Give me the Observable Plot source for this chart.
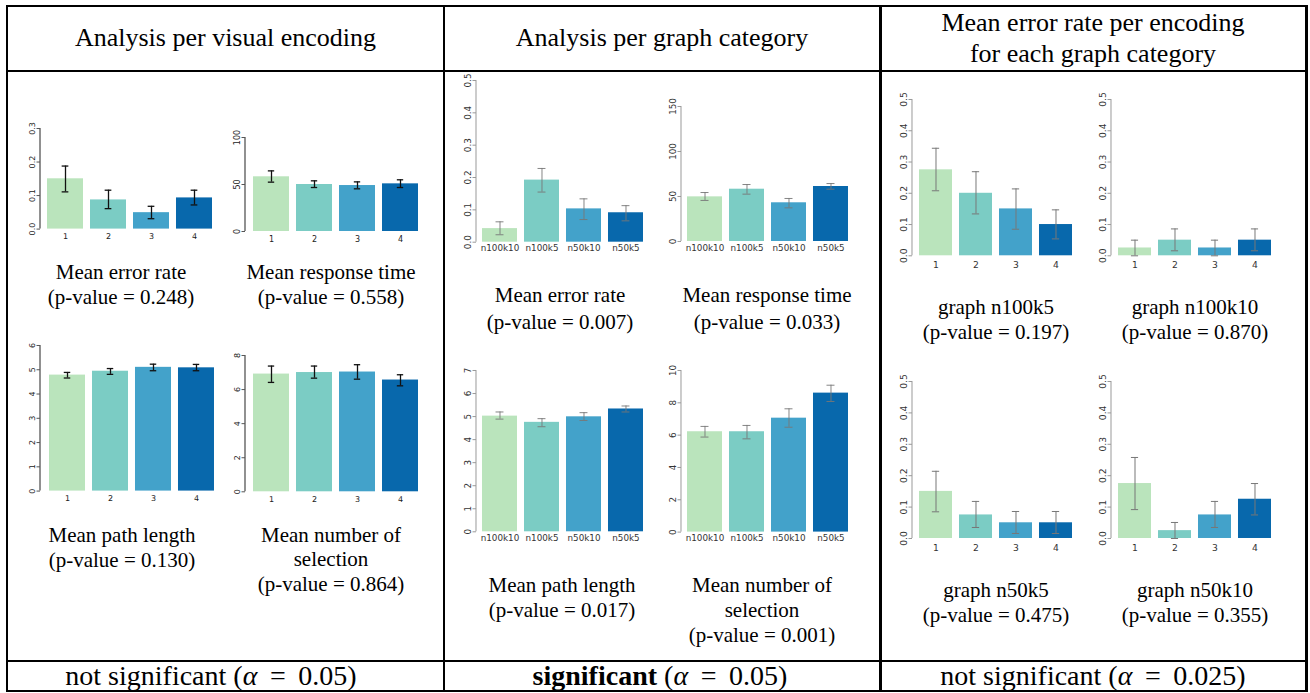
<!DOCTYPE html>
<html>
<head>
<meta charset="utf-8">
<script src="https://cdn.jsdelivr.net/npm/d3@7"></script>
<script src="https://cdn.jsdelivr.net/npm/@observablehq/plot@0.6"></script>
<style>
  html, body { margin: 0; padding: 0; background: #fff; }
  #page { position: relative; width: 1310px; height: 693px; overflow: hidden; background: #fff; }
  .ln { position: absolute; background: #000; }
  .txt { position: absolute; font-family: "Liberation Serif", "Times New Roman", serif; color: #000; text-align: center; white-space: nowrap; }
  .chart { position: absolute; }
</style>
</head>
<body>
<div id="page"></div>
<script>
// ---------------- data ----------------
const encodings = ["1", "2", "3", "4"];
const graphCats = ["n100k10", "n100k5", "n50k10", "n50k5"];
const palette = ["#BAE4BC", "#7BCCC4", "#43A2CA", "#0868AC"];

// Analysis per visual encoding
const encErrMean = [0.150, 0.087, 0.049, 0.093];
const encErrLo   = [0.111, 0.061, 0.031, 0.072];
const encErrHi   = [0.188, 0.116, 0.068, 0.116];
const encTimeMean = [58.2, 50.0, 48.9, 50.7];
const encTimeLo   = [52.5, 46.8, 45.4, 46.8];
const encTimeHi   = [64.5, 53.9, 52.8, 55.0];
const encPathMean = [4.78, 4.94, 5.10, 5.08];
const encPathLo   = [4.66, 4.81, 4.96, 4.96];
const encPathHi   = [4.89, 5.05, 5.23, 5.22];
const encSelMean = [6.91, 7.00, 7.03, 6.56];
const encSelLo   = [6.42, 6.67, 6.61, 6.22];
const encSelHi   = [7.38, 7.38, 7.46, 6.87];

// Analysis per graph category
const catErrMean = [0.042, 0.192, 0.103, 0.091];
const catErrLo   = [0.023, 0.155, 0.070, 0.066];
const catErrHi   = [0.063, 0.228, 0.134, 0.113];
const catTimeMean = [49.6, 58.1, 43.0, 61.1];
const catTimeLo   = [45.6, 52.6, 37.4, 58.1];
const catTimeHi   = [54.4, 63.3, 47.8, 64.4];
const catPathMean = [5.02, 4.75, 4.99, 5.33];
const catPathLo   = [4.89, 4.56, 4.83, 5.20];
const catPathHi   = [5.20, 4.91, 5.17, 5.46];
const catSelMean = [6.21, 6.21, 7.05, 8.60];
const catSelLo   = [5.88, 5.77, 6.49, 8.08];
const catSelHi   = [6.54, 6.60, 7.63, 9.09];

// Mean error rate per encoding for each graph category
const n100k5Mean = [0.275, 0.200, 0.150, 0.100];
const n100k5Lo   = [0.208, 0.134, 0.085, 0.054];
const n100k5Hi   = [0.344, 0.269, 0.214, 0.147];
const n100k10Mean = [0.025, 0.050, 0.025, 0.050];
const n100k10Lo   = [0.000, 0.016, 0.000, 0.016];
const n100k10Hi   = [0.050, 0.086, 0.050, 0.086];
const n50k5Mean = [0.150, 0.075, 0.050, 0.050];
const n50k5Lo   = [0.085, 0.035, 0.016, 0.016];
const n50k5Hi   = [0.214, 0.118, 0.086, 0.086];
const n50k10Mean = [0.175, 0.025, 0.075, 0.125];
const n50k10Lo   = [0.092, 0.000, 0.035, 0.075];
const n50k10Hi   = [0.258, 0.051, 0.118, 0.175];

// tick values
const ticksErr03 = [0, 0.1, 0.2, 0.3];
const ticksErr05 = [0, 0.1, 0.2, 0.3, 0.4, 0.5];
const ticksTime100 = [0, 50, 100];
const ticksTime150 = [0, 50, 100, 150];
const ticksPath6 = [0, 1, 2, 3, 4, 5, 6];
const ticksPath7 = [0, 1, 2, 3, 4, 5, 6, 7];
const ticksSel8 = [0, 2, 4, 6, 8];
const ticksSel10 = [0, 2, 4, 6, 8, 10];

// texts
const headers = ["Analysis per visual encoding", "Analysis per graph category", "Mean error rate per encoding<br>for each graph category"];
const footers = ["not significant (<i>α</i>&thinsp; = &thinsp;0.05)", "<b>significant</b> (<i>α</i>&thinsp; = &thinsp;0.05)", "not significant (<i>α</i>&thinsp; = &thinsp;0.025)"];

// ---------------- layout helpers ----------------
const page = document.getElementById("page");
function line(x, y, w, h) {
  const d = document.createElement("div");
  d.className = "ln";
  Object.assign(d.style, {left: x + "px", top: y + "px", width: w + "px", height: h + "px"});
  page.appendChild(d);
}
function text(html, cx, cy, size, lh, w = 420) {
  const d = document.createElement("div");
  d.className = "txt";
  d.innerHTML = html;
  Object.assign(d.style, {left: (cx - w / 2) + "px", top: (cy - lh / 2) + "px", width: w + "px",
    fontSize: size + "px", lineHeight: lh + "px"});
  page.appendChild(d);
}

const styles = {
  left:  {err: "#111", errW: 1.3, cap: 7, axis: "#555", axisW: 1.3, label: "#222", fs: 8,   xpad: 4.5, ypad: 2},
  mid:   {err: "#777", errW: 0.9, cap: 8, axis: "#999", axisW: 1,   label: "#333", fs: 8.8, xpad: 3,   ypad: 2},
  right: {err: "#777", errW: 1,   cap: 8, axis: "#999", axisW: 1,   label: "#333", fs: 9.2, xpad: 5.5, ypad: 2}
};

function panel(cfg) {
  const st = styles[cfg.style];
  const cats = cfg.cats;
  const data = cats.map((c, i) => ({cat: c, v: cfg.mean[i], lo: cfg.lo[i], hi: cfg.hi[i]}));
  const padL = 30, marginRight = 4, marginTop = 8, marginBottom = 22;
  const off = cfg.barL - cfg.x0;
  const frameW = (cfg.barR + off) - cfg.x0;
  const n = cats.length, pi = 1 / 6;
  const po = off * (n - pi) / (frameW - 2 * off);
  const step = frameW / (n - pi + 2 * po);
  const bw = step * (1 - pi);
  const inset = (bw - st.cap) / 2;
  const left = cfg.x0 - padL;
  const top = cfg.yTop - marginTop;
  const width = padL + frameW + marginRight;
  const height = (cfg.yBot - top) + marginBottom;
  const ymax = cfg.ticks[cfg.ticks.length - 1];

  const axisLine = (index, scales, values, dims) => {
    const l = document.createElementNS("http://www.w3.org/2000/svg", "line");
    const x = dims.marginLeft;
    l.setAttribute("x1", x); l.setAttribute("x2", x);
    l.setAttribute("y1", scales.y(0)); l.setAttribute("y2", scales.y(ymax));
    l.setAttribute("stroke", st.axis); l.setAttribute("stroke-width", st.axisW);
    return l;
  };

  const chart = Plot.plot({
    width, height, marginLeft: padL, marginRight, marginTop, marginBottom,
    x: {domain: cats, paddingInner: pi, paddingOuter: po, align: 0.5},
    y: {domain: [0, ymax]},
    color: {domain: cats, range: palette},
    style: {fontFamily: "DejaVu Sans", fontSize: st.fs + "px", background: "transparent", overflow: "visible"},
    marks: [
      Plot.barY(data, {x: "cat", y: "v", fill: "cat"}),
      Plot.ruleX(data, {x: "cat", y1: "lo", y2: "hi", stroke: st.err, strokeWidth: st.errW}),
      Plot.tickY(data, {x: "cat", y: "lo", stroke: st.err, strokeWidth: st.errW, insetLeft: inset, insetRight: inset}),
      Plot.tickY(data, {x: "cat", y: "hi", stroke: st.err, strokeWidth: st.errW, insetLeft: inset, insetRight: inset}),
      axisLine,
      Plot.axisY({ticks: cfg.ticks, tickFormat: cfg.fmt, tickRotate: -90, tickSize: 3.5, tickPadding: st.ypad,
        stroke: st.axis, fill: st.label, label: null, fontSize: st.fs}),
      Plot.axisX({tickSize: 0, tickPadding: st.xpad, fill: st.label, label: null, fontSize: st.fs})
    ]
  });
  chart.classList.add("chart");
  chart.style.left = left + "px";
  chart.style.top = top + "px";
  page.appendChild(chart);
}

const f1 = d3.format(".1f"), f0 = d3.format("d");

// ---------------- panels ----------------
panel({style: "left", cats: encodings, mean: encErrMean, lo: encErrLo, hi: encErrHi, ticks: ticksErr03, fmt: f1,
  x0: 40, barL: 46, barR: 213, yTop: 127.7, yBot: 228.3});
panel({style: "left", cats: encodings, mean: encTimeMean, lo: encTimeLo, hi: encTimeHi, ticks: ticksTime100, fmt: f0,
  x0: 245, barL: 250.7, barR: 419.3, yTop: 137, yBot: 231});
panel({style: "left", cats: encodings, mean: encPathMean, lo: encPathLo, hi: encPathHi, ticks: ticksPath6, fmt: f0,
  x0: 40, barL: 47.7, barR: 215.7, yTop: 344.7, yBot: 490.3});
panel({style: "left", cats: encodings, mean: encSelMean, lo: encSelLo, hi: encSelHi, ticks: ticksSel8, fmt: f0,
  x0: 245, barL: 250.7, barR: 419.3, yTop: 354.7, yBot: 491});

panel({style: "mid", cats: graphCats, mean: catErrMean, lo: catErrLo, hi: catErrHi, ticks: ticksErr05, fmt: f1,
  x0: 476, barL: 482, barR: 643.3, yTop: 80, yBot: 241.7});
panel({style: "mid", cats: graphCats, mean: catTimeMean, lo: catTimeLo, hi: catTimeHi, ticks: ticksTime150, fmt: f0,
  x0: 681, barL: 687.3, barR: 848.3, yTop: 106.3, yBot: 241.3});
panel({style: "mid", cats: graphCats, mean: catPathMean, lo: catPathLo, hi: catPathHi, ticks: ticksPath7, fmt: f0,
  x0: 476, barL: 482, barR: 643.3, yTop: 370, yBot: 531.3});
panel({style: "mid", cats: graphCats, mean: catSelMean, lo: catSelLo, hi: catSelHi, ticks: ticksSel10, fmt: f0,
  x0: 681, barL: 687.3, barR: 848.3, yTop: 369.7, yBot: 531.3});

panel({style: "right", cats: encodings, mean: n100k5Mean, lo: n100k5Lo, hi: n100k5Hi, ticks: ticksErr05, fmt: f1,
  x0: 912.3, barL: 918.7, barR: 1073.7, yTop: 99, yBot: 255.3});
panel({style: "right", cats: encodings, mean: n100k10Mean, lo: n100k10Lo, hi: n100k10Hi, ticks: ticksErr05, fmt: f1,
  x0: 1111, barL: 1117.3, barR: 1273, yTop: 99, yBot: 255.3});
panel({style: "right", cats: encodings, mean: n50k5Mean, lo: n50k5Lo, hi: n50k5Hi, ticks: ticksErr05, fmt: f1,
  x0: 912.3, barL: 918.7, barR: 1073.7, yTop: 381.3, yBot: 538.3});
panel({style: "right", cats: encodings, mean: n50k10Mean, lo: n50k10Lo, hi: n50k10Hi, ticks: ticksErr05, fmt: f1,
  x0: 1111, barL: 1117.3, barR: 1273, yTop: 381.3, yBot: 538.3});

// ---------------- captions ----------------
const capFs = 21;
text("Mean error rate<br>(p-value = 0.248)", 121, 272.7, capFs, 25.3, 200);
text("Mean response time<br>(p-value = 0.558)", 331, 272.7, capFs, 25.3, 200);
text("Mean path length<br>(p-value = 0.130)", 122, 535, capFs, 25, 200);
text("Mean number of<br>selection<br>(p-value = 0.864)", 331, 535, capFs, 24.5, 200);

text("Mean error rate<br>(p-value = 0.007)", 560, 295.7, capFs, 26.5, 200);
text("Mean response time<br>(p-value = 0.033)", 767, 295.7, capFs, 26.5, 200);
text("Mean path length<br>(p-value = 0.017)", 562, 585.7, capFs, 24.5, 200);
text("Mean number of<br>selection<br>(p-value = 0.001)", 762, 585.7, capFs, 25, 200);

text("graph n100k5<br>(p-value = 0.197)", 996, 307.7, capFs, 25.6, 200);
text("graph n100k10<br>(p-value = 0.870)", 1195, 307.7, capFs, 25.6, 200);
text("graph n50k5<br>(p-value = 0.475)", 996, 590.7, capFs, 25.3, 200);
text("graph n50k10<br>(p-value = 0.355)", 1195, 590.7, capFs, 25.3, 200);

// ---------------- table frame ----------------
text(headers[0], 225.5, 38, 26, 30, 430);
text(headers[1], 662, 38, 26, 30, 430);
text(headers[2], 1093, 22, 26, 31, 420);
text(footers[0], 211, 676, 28, 30, 430);
text(footers[1], 660, 676, 28, 30, 430);
text(footers[2], 1093, 676, 28, 30, 420);

line(6, 5, 1302, 1.6);     // top
line(6, 69.8, 1302, 2);   // header bottom
line(6, 659.8, 1302, 2);  // footer top
line(6, 690, 1302, 2);    // bottom
line(6, 5, 2, 687);       // left
line(443, 5, 2, 687);     // col sep 1
line(879, 5, 3, 687);     // col sep 2
line(1305, 5, 3, 687);    // right
</script>
</body>
</html>
